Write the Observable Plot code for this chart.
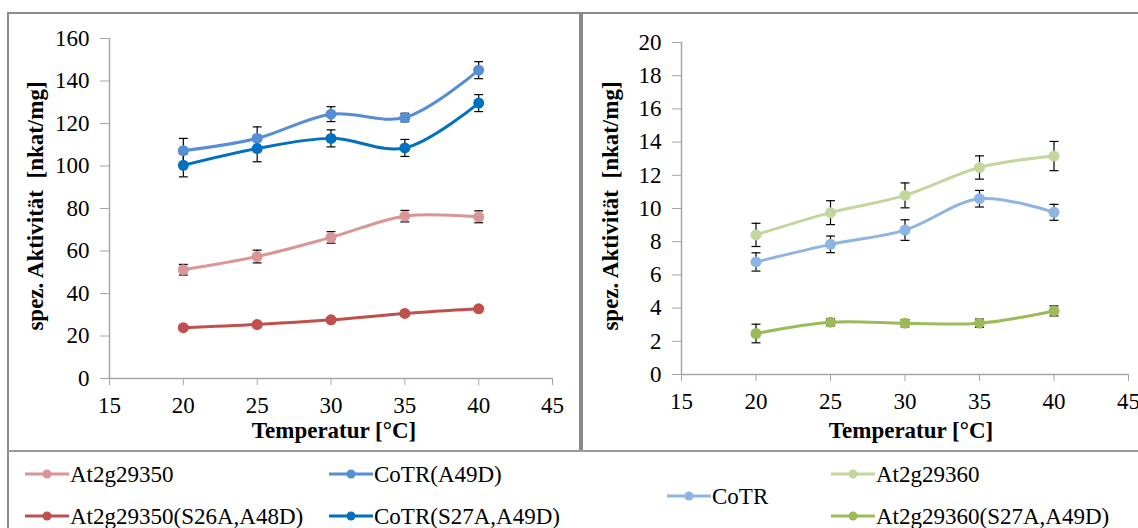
<!DOCTYPE html>
<html>
<head>
<meta charset="utf-8">
<script src="https://cdn.jsdelivr.net/npm/d3@7"></script>
<script src="https://cdn.jsdelivr.net/npm/@observablehq/plot@0.6"></script>
<style>
  html, body { margin: 0; padding: 0; background: #fff; }
  #wrap { position: relative; width: 1138px; height: 528px; overflow: hidden; background: #fff; font-family: "Liberation Serif", "Times New Roman", "DejaVu Serif", serif; }
  #wrap svg text { font-family: "Liberation Serif", "Times New Roman", "DejaVu Serif", serif !important; }
  .panel { position: absolute; top: 0; }
  .frame { position: absolute; background: #8a8a8a; }
</style>
</head>
<body>
<div id="wrap">
  <div class="frame" style="left:7px;top:12px;width:1140px;height:2px;"></div>
  <div class="frame" style="left:7px;top:12px;width:2px;height:530px;"></div>
  <div class="frame" style="left:579px;top:12px;width:4px;height:440px;"></div>
  <div class="frame" style="left:7px;top:450px;width:1140px;height:2px;background:#999;"></div>
  <div id="left" class="panel" style="left:0px;"></div>
  <div id="right" class="panel" style="left:580px;"></div>
  <svg id="legend" width="1138" height="528" style="position:absolute;left:0;top:0;pointer-events:none;"></svg>
</div>
<script>
// ---- Data ----
const temps = [20, 25, 30, 35, 40];
const xTicks = [15, 20, 25, 30, 35, 40, 45];
const yTicksLeft = [0, 20, 40, 60, 80, 100, 120, 140, 160];
const yTicksRight = [0, 2, 4, 6, 8, 10, 12, 14, 16, 18, 20];

// left panel series
const at350 = [51.2, 57.4, 66.4, 76.4, 76.1];
const at350Err = [2.5, 3.0, 2.7, 2.7, 2.8];
const at350Mut = [23.9, 25.4, 27.6, 30.6, 32.8];
const at350MutErr = [1.0, 1.0, 1.0, 1.0, 1.2];
const cotrA49D = [107.2, 113.0, 124.4, 122.8, 145.1];
const cotrA49DErr = [5.8, 5.4, 3.5, 2.0, 4.0];
const cotrMut = [100.3, 108.2, 113.0, 108.5, 129.6];
const cotrMutErr = [5.4, 6.2, 4.0, 4.0, 4.0];

// right panel series
const at360 = [8.41, 9.75, 10.79, 12.47, 13.16];
const at360Err = [0.70, 0.72, 0.75, 0.70, 0.88];
const cotr = [6.78, 7.84, 8.70, 10.59, 9.77];
const cotrErr = [0.55, 0.50, 0.62, 0.50, 0.48];
const at360Mut = [2.47, 3.15, 3.09, 3.09, 3.83];
const at360MutErr = [0.56, 0.22, 0.22, 0.25, 0.30];

const names = ["At2g29350", "At2g29350(S26A,A48D)", "CoTR(A49D)", "CoTR(S27A,A49D)", "CoTR", "At2g29360", "At2g29360(S27A,A49D)"];
const colors = ["#DA9694", "#C0504D", "#558ED5", "#0070C0", "#8DB4E2", "#C3D69B", "#9BBB59"];

function rows(name, vals, errs) {
  return temps.map((t, i) => ({ name, t, v: vals[i], e: errs[i] }));
}
const leftData = [
  ...rows(names[0], at350, at350Err),
  ...rows(names[1], at350Mut, at350MutErr),
  ...rows(names[2], cotrA49D, cotrA49DErr),
  ...rows(names[3], cotrMut, cotrMutErr)
];
const rightData = [
  ...rows(names[5], at360, at360Err),
  ...rows(names[4], cotr, cotrErr),
  ...rows(names[6], at360Mut, at360MutErr)
];

const FONT = '"Liberation Serif", "Times New Roman", "DejaVu Serif", serif';

function panel(data, yDomain, yTicks, m) {
  return Plot.plot({
    width: m.width, height: 452,
    marginLeft: m.left, marginRight: m.right, marginTop: m.top, marginBottom: m.bottom,
    style: { fontFamily: FONT, fontSize: "23px", background: "transparent", color: "#000", overflow: "visible" },
    x: { domain: [15, 45], ticks: xTicks, tickSize: 7, tickPadding: 11, label: null, tickFormat: d => String(d) },
    y: { domain: yDomain, ticks: yTicks, tickSize: 9, tickPadding: 11, label: null, tickFormat: d => String(d) },
    color: { domain: names, range: colors },
    marks: [
      Plot.ruleX([15], { stroke: "#a6a6a6", strokeWidth: 1.5 }),
      Plot.ruleY([yDomain[0]], { stroke: "#a6a6a6", strokeWidth: 1.5 }),
      Plot.ruleX(data, { x: "t", y1: d => d.v - d.e, y2: d => d.v + d.e, stroke: "#000", strokeWidth: 1.2 }),
      Plot.link(data, { x1: d => d.t - 0.3, x2: d => d.t + 0.3, y1: d => d.v + d.e, y2: d => d.v + d.e, stroke: "#000", strokeWidth: 1.2 }),
      Plot.link(data, { x1: d => d.t - 0.3, x2: d => d.t + 0.3, y1: d => d.v - d.e, y2: d => d.v - d.e, stroke: "#000", strokeWidth: 1.2 }),
      Plot.line(data, { x: "t", y: "v", z: "name", stroke: "name", strokeWidth: 3, curve: "catmull-rom" }),
      Plot.dot(data, { x: "t", y: "v", fill: "name", r: 5.5 })
    ]
  });
}

function styleAxes(svg) {
  d3.select(svg).selectAll('g[aria-label="x-axis tick"], g[aria-label="y-axis tick"]').attr("stroke", "#a6a6a6");
}

function addTitles(svg, xc, yx) {
  d3.select(svg).append("text")
    .attr("x", xc).attr("y", 438).attr("text-anchor", "middle")
    .attr("font-weight", "bold").attr("font-size", 23).style("font-family", FONT)
    .text("Temperatur [°C]");
  d3.select(svg).append("text")
    .attr("transform", `translate(${yx},206) rotate(-90)`).attr("text-anchor", "middle")
    .attr("font-weight", "bold").attr("font-size", 23).style("font-family", FONT)
    .style("white-space", "pre")
    .text("spez. Aktivität  [nkat/mg]");
}

const left = panel(leftData, [0, 160], yTicksLeft, { width: 580, left: 109, right: 28, top: 38, bottom: 74 });
styleAxes(left);
addTitles(left, 334, 43);
document.getElementById("left").appendChild(left);

const right = panel(rightData, [0, 20], yTicksRight, { width: 558, left: 101, right: 10, top: 42, bottom: 78 });
styleAxes(right);
addTitles(right, 331, 38);
document.getElementById("right").appendChild(right);

// ---- Legend ----
const legendItems = [
  { i: 0, x: 25, y: 474 },
  { i: 1, x: 25, y: 516 },
  { i: 2, x: 329, y: 474 },
  { i: 3, x: 329, y: 516 },
  { i: 4, x: 667, y: 496 },
  { i: 5, x: 831, y: 474 },
  { i: 6, x: 831, y: 516 }
];
const lg = d3.select("#legend");
legendItems.forEach(it => {
  const g = lg.append("g").attr("transform", `translate(${it.x},${it.y})`);
  g.append("line").attr("x1", 0).attr("x2", 44).attr("y1", 0).attr("y2", 0)
    .attr("stroke", colors[it.i]).attr("stroke-width", 3);
  g.append("circle").attr("cx", 22).attr("cy", 0).attr("r", 4.5).attr("fill", colors[it.i]);
  g.append("text").attr("x", 45).attr("y", 8).style("font-family", FONT).attr("font-size", 23)
    .attr("fill", "#000").text(names[it.i]);
});
</script>
</body>
</html>
